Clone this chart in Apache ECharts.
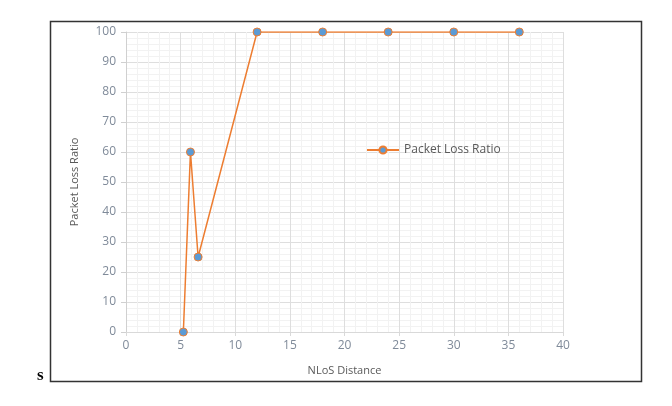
<!DOCTYPE html>
<html>
<head>
<meta charset="utf-8">
<script src="https://cdn.jsdelivr.net/npm/echarts@6/dist/echarts.min.js"></script>
<style>
  html, body { margin: 0; padding: 0; background: #fff; }
  #main { width: 672px; height: 406px; }
</style>
</head>
<body>
<div id="main"></div>
<script>
// NLoS distance vs packet loss ratio
var distance = [5.25, 5.9, 6.6, 12, 18, 24, 30, 36];
var lossRatio = [0, 60, 25, 100, 100, 100, 100, 100];
var seriesName = 'Packet Loss Ratio';

var points = distance.map(function (d, i) { return [d, lossRatio[i]]; });

var labelColor = '#7f8a99';
var titleColor = '#595959';
var font = 'Open Sans';

var myChart = echarts.init(document.getElementById('main'));
var option = {
    animation: false,
    textStyle: {fontFamily: font},
    graphic: [
        {
            type: 'rect',
            shape: {x: 50.5, y: 21.5, width: 591, height: 360},
            style: {fill: 'none', stroke: '#333', lineWidth: 1.5},
            silent: true
        },
        {
            type: 'text',
            left: 37, top: 367,
            style: {text: 's', font: 'bold 17px "Liberation Serif"', fill: '#000'}
        }
    ],
    grid: {left: 126, right: 109, top: 32, bottom: 74},
    legend: {
        data: [seriesName],
        left: 361, top: 139,
        itemWidth: 32, itemHeight: 9,
        textStyle: {color: titleColor, fontSize: 12, fontFamily: font}
    },
    xAxis: {
        type: 'value',
        min: 0, max: 40, interval: 5,
        name: 'NLoS Distance',
        nameLocation: 'middle',
        nameGap: 33,
        nameTextStyle: {color: titleColor, fontSize: 11},
        axisLine: {show: true, lineStyle: {color: '#d9d9d9'}},
        axisTick: {show: true, length: 4, lineStyle: {color: '#d9d9d9'}},
        axisLabel: {color: labelColor, fontSize: 12, margin: 8},
        splitLine: {show: true, lineStyle: {color: '#dedede'}},
        minorTick: {show: true, splitNumber: 5, length: 0},
        minorSplitLine: {show: true, lineStyle: {color: '#f2f2f2'}}
    },
    yAxis: {
        type: 'value',
        min: 0, max: 100, interval: 10,
        name: 'Packet Loss Ratio',
        nameLocation: 'middle',
        nameGap: 46,
        nameTextStyle: {color: titleColor, fontSize: 11},
        axisLine: {show: true, lineStyle: {color: '#d0d0d0'}},
        axisTick: {show: true, length: 5, lineStyle: {color: '#d0d0d0'}},
        axisLabel: {color: labelColor, fontSize: 12, margin: 10},
        splitLine: {show: true, lineStyle: {color: '#dedede'}},
        minorTick: {show: true, splitNumber: 5, length: 0},
        minorSplitLine: {show: true, lineStyle: {color: '#f2f2f2'}}
    },
    series: [
        {
            name: seriesName,
            type: 'line',
            data: points,
            symbol: 'circle',
            symbolSize: 8,
            lineStyle: {color: '#ed7d31', width: 1.5},
            itemStyle: {color: '#5b9bd5', borderColor: '#ed7d31', borderWidth: 1}
        }
    ]
};
myChart.setOption(option);
</script>
</body>
</html>
